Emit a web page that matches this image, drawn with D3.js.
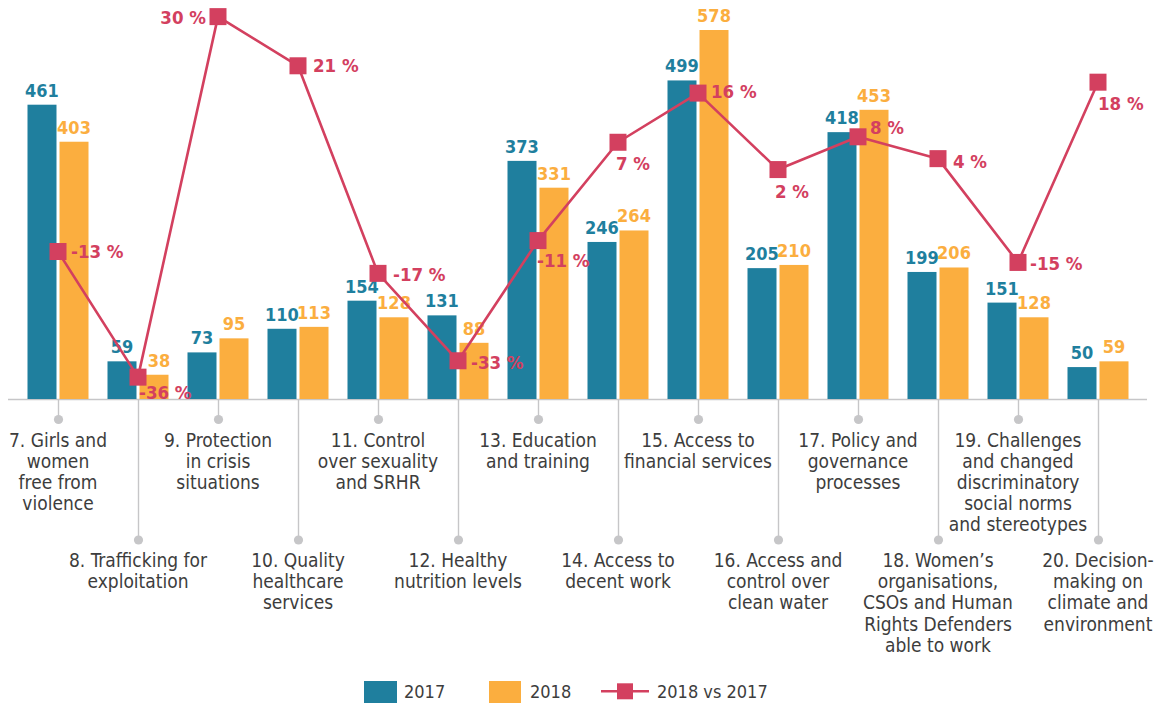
<!DOCTYPE html>
<html>
<head>
<meta charset="utf-8">
<script src="https://cdn.jsdelivr.net/npm/d3@7"></script>
<style>
  html, body { margin: 0; padding: 0; background: #ffffff; }
  svg { display: block; }
  text { font-family: "DejaVu Sans Condensed", "DejaVu Sans", sans-serif; font-stretch: condensed; }
</style>
</head>
<body>
<svg id="chart" width="1154" height="703"></svg>
<script>
// ---------- DATA ----------
const categories = [
  "7. Girls and|women|free from|violence",
  "8. Trafficking for|exploitation",
  "9. Protection|in crisis|situations",
  "10. Quality|healthcare|services",
  "11. Control|over sexuality|and SRHR",
  "12. Healthy|nutrition levels",
  "13. Education|and training",
  "14. Access to|decent work",
  "15. Access to|financial services",
  "16. Access and|control over|clean water",
  "17. Policy and|governance|processes",
  "18. Women’s|organisations,|CSOs and Human|Rights Defenders|able to work",
  "19. Challenges|and changed|discriminatory|social norms|and stereotypes",
  "20. Decision-|making on|climate and|environment"
];
const values2017 = [461, 59, 73, 110, 154, 131, 373, 246, 499, 205, 418, 199, 151, 50];
const values2018 = [403, 38, 95, 113, 128, 88, 331, 264, 578, 210, 453, 206, 128, 59];
const change = [-13, -36, 30, 21, -17, -33, -11, 7, 16, 2, 8, 4, -15, 18];
const seriesNames = ["2017", "2018", "2018 vs 2017"];

// ---------- LAYOUT (label nudges for the % labels) ----------
const pctDx = [13, 1, -12, 15, 15, 13, -1, -2, 13, -3, 12, 15, 12, 0];
const pctDy = [0, 15, 1, 0, 1, 2, 20, 21, -2, 22, -9, 3, 1, 21];

const COL17 = "#1f7f9e", COL18 = "#fbae3f", COLLINE = "#d3405f";
const TEXT = "#3d3d3d", GRID = "#c6c6c8";

const svg = d3.select("#chart");
const baseY = 399;

const x = d3.scaleBand().domain(d3.range(categories.length))
  .range([18, 1138]).paddingInner(0.2375).paddingOuter(0.11875);
const xs = d3.scaleBand().domain(["2017", "2018"]).range([0, x.bandwidth()]).paddingInner(0.094);
const y = d3.scaleLinear().domain([0, 625]).range([baseY, 0]);
const y2 = d3.scaleLinear().domain([-40, 40]).range([baseY, -38]);
const cx = i => x(i) + x.bandwidth() / 2;

const data = categories.map((c, i) => ({ i, lines: c.split("|"), v17: values2017[i], v18: values2018[i], ch: change[i] }));

// axis baseline
svg.append("line").attr("x1", 8).attr("x2", 1147).attr("y1", baseY + 0.5).attr("y2", baseY + 0.5)
  .attr("stroke", GRID).attr("stroke-width", 1.6);

// ticks with dots and labels
const tk = svg.append("g");
data.forEach(d => {
  const long = d.i % 2 === 1;
  const dotY = long ? 540 : 419.5;
  const X = Math.round(cx(d.i)) + 0.5;
  tk.append("line").attr("x1", X).attr("x2", X).attr("y1", baseY + 1).attr("y2", dotY)
    .attr("stroke", GRID).attr("stroke-width", 1.4);
  tk.append("circle").attr("cx", X).attr("cy", dotY).attr("r", 4.6).attr("fill", GRID);
  const t = tk.append("text").attr("text-anchor", "middle").attr("fill", TEXT)
    .style("font-size", "19px");
  const firstBase = long ? 567 : 446.5;
  d.lines.forEach((ln, k) => {
    t.append("tspan").attr("x", cx(d.i)).attr("y", firstBase + k * 21.2).text(ln);
  });
});

// bars
const bars = svg.append("g");
bars.selectAll("rect.b17").data(data).join("rect")
  .attr("x", d => x(d.i) + xs("2017")).attr("width", xs.bandwidth())
  .attr("y", d => y(d.v17)).attr("height", d => baseY - y(d.v17)).attr("fill", COL17);
bars.selectAll("rect.b18").data(data).join("rect")
  .attr("x", d => x(d.i) + xs("2018")).attr("width", xs.bandwidth())
  .attr("y", d => y(d.v18)).attr("height", d => baseY - y(d.v18)).attr("fill", COL18);

// bar value labels
const vl = svg.append("g").style("font-size", "18px").style("font-weight", "bold").attr("text-anchor", "middle");
data.forEach(d => {
  vl.append("text").attr("x", x(d.i) + xs("2017") + xs.bandwidth() / 2).attr("y", y(d.v17) - 8)
    .attr("fill", COL17).text(d.v17);
  vl.append("text").attr("x", x(d.i) + xs("2018") + xs.bandwidth() / 2 + (d.i === 1 ? 5 : 0)).attr("y", y(d.v18) - 8)
    .attr("fill", COL18).text(d.v18);
});

// change line
const line = d3.line().x(d => cx(d.i)).y(d => y2(d.ch));
svg.append("path").datum(data).attr("d", line).attr("fill", "none")
  .attr("stroke", COLLINE).attr("stroke-width", 2.6).attr("stroke-linejoin", "round");
const ms = 17;
svg.append("g").selectAll("rect").data(data).join("rect")
  .attr("x", d => cx(d.i) - ms / 2).attr("y", d => y2(d.ch) - ms / 2)
  .attr("width", ms).attr("height", ms).attr("fill", COLLINE);

// % labels
const pl = svg.append("g").style("font-size", "18.5px").style("font-weight", "bold").attr("fill", COLLINE);
data.forEach(d => {
  pl.append("text")
    .attr("x", cx(d.i) + pctDx[d.i])
    .attr("y", y2(d.ch) + pctDy[d.i])
    .attr("dy", "0.36em")
    .attr("text-anchor", pctDx[d.i] < -5 ? "end" : "start")
    .text(d.ch + " %");
});

// legend
const lg = svg.append("g").style("font-size", "18px").attr("fill", TEXT);
lg.append("rect").attr("x", 364).attr("y", 681).attr("width", 33).attr("height", 22).attr("fill", COL17);
lg.append("text").attr("x", 404).attr("y", 697.5).text(seriesNames[0]);
lg.append("rect").attr("x", 489).attr("y", 681).attr("width", 32).attr("height", 22).attr("fill", COL18);
lg.append("text").attr("x", 530).attr("y", 697.5).text(seriesNames[1]);
lg.append("line").attr("x1", 601).attr("x2", 649).attr("y1", 691.3).attr("y2", 691.3)
  .attr("stroke", COLLINE).attr("stroke-width", 2.6);
lg.append("rect").attr("x", 617).attr("y", 683.3).attr("width", 16).attr("height", 16).attr("fill", COLLINE);
lg.append("text").attr("x", 657).attr("y", 697.5).text(seriesNames[2]);
</script>
</body>
</html>
